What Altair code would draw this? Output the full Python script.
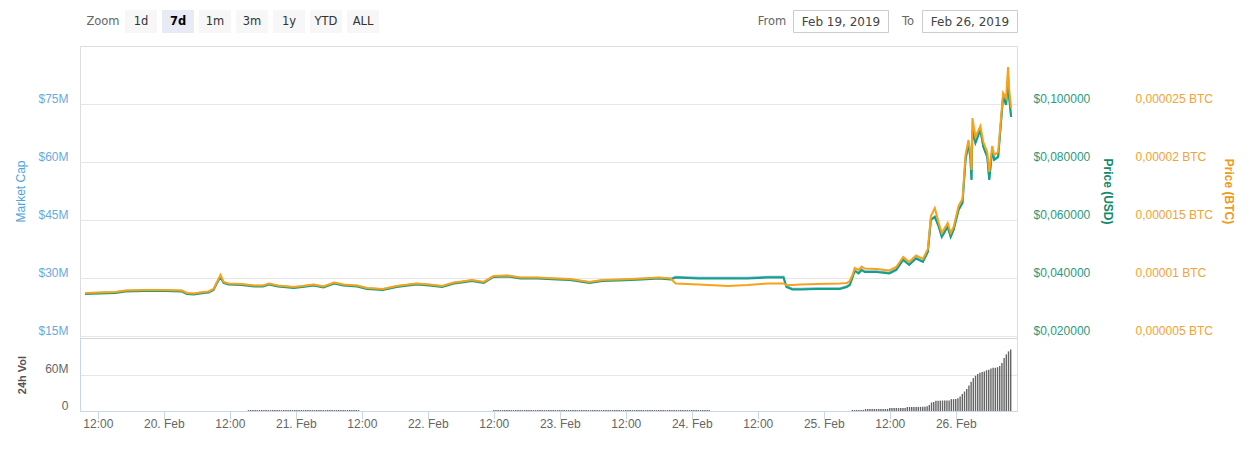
import altair as alt
import pandas as pd

# ---------------- data ----------------
# timestamps (Feb 2019, "DD HH:MM")
TIMES = [
    "19 09:40", "19 12:22", "19 15:14", "19 17:02", "19 20:28", "20 00:03", "20 03:17", "20 04:11",
    "20 05:27", "20 07:15", "20 08:09", "20 09:03", "20 09:35", "20 10:19", "20 10:51", "20 11:45",
    "20 14:05", "20 16:26", "20 18:03", "20 19:07", "20 20:44", "20 23:37", "21 01:14", "21 03:13",
    "21 05:01", "21 07:00", "21 08:37", "21 11:08", "21 12:56", "21 15:49", "21 18:20", "21 21:56",
    "22 00:16", "22 02:37", "22 04:46", "22 06:13", "22 08:01", "22 10:10", "22 11:58", "22 14:29",
    "22 16:49", "22 19:53", "22 23:29", "23 01:49", "23 05:25", "23 07:45", "23 10:49", "23 14:57",
    "23 18:01", "23 20:10", "23 21:04", "24 01:13", "24 06:36", "24 10:12", "24 13:48", "24 16:41",
    "24 17:13", "24 18:18", "24 19:44", "24 22:48", "25 02:56", "25 04:11", "25 04:44", "25 05:16",
    "25 05:38", "25 06:21", "25 06:53", "25 07:26", "25 09:35", "25 11:56", "25 13:11", "25 14:27",
    "25 15:32", "25 16:47", "25 18:02", "25 18:56", "25 19:29", "25 20:12", "25 20:55", "25 21:28",
    "25 22:32", "25 23:05", "25 23:37", "26 00:31", "26 01:14", "26 01:47", "26 02:19", "26 02:41",
    "26 02:52", "26 03:02", "26 03:35", "26 04:29", "26 05:01", "26 05:44", "26 06:06", "26 06:38",
    "26 07:00", "26 07:43", "26 08:16", "26 08:37", "26 09:10", "26 09:31", "26 09:42", "26 10:04",
]

# market cap in $M
MARKET_CAP_M = [
    26.06, 26.20, 26.32, 26.71, 26.84, 26.84, 26.71, 26.06, 25.93, 26.32, 26.45, 27.10, 28.65, 30.46,
    28.91, 28.52, 28.39, 28.00, 28.00, 28.52, 28.00, 27.61, 27.88, 28.26, 27.74, 28.78, 28.26, 28.00,
    27.36, 27.10, 27.88, 28.52, 28.26, 27.88, 28.78, 29.04, 29.43, 28.91, 30.46, 30.59, 30.07, 30.07,
    29.81, 29.68, 28.91, 29.43, 29.56, 29.81, 30.07, 29.81, 30.33, 30.07, 30.07, 30.07, 30.33, 30.33,
    27.88, 27.22, 27.22, 27.36, 27.36, 27.88, 28.39, 30.46, 32.01, 31.36, 32.27, 31.75, 31.75, 31.36,
    32.27, 34.86, 33.56, 35.24, 34.34, 36.93, 45.20, 45.97, 43.39, 40.81, 43.39, 40.81, 42.61, 47.79,
    49.60, 60.72, 65.11, 60.72, 55.54, 68.47, 65.11, 68.47, 64.08, 61.49, 55.54, 63.31, 60.72, 61.49,
    71.06, 77.01, 74.95, 82.18, 77.01, 71.84,
]

# price in USD
PRICE_USD = [
    0.03448, 0.03466, 0.03483, 0.03534, 0.03552, 0.03552, 0.03534, 0.03448, 0.03431, 0.03483, 0.03500,
    0.03586, 0.03793, 0.04034, 0.03828, 0.03776, 0.03759, 0.03707, 0.03707, 0.03776, 0.03707, 0.03655,
    0.03690, 0.03741, 0.03672, 0.03810, 0.03741, 0.03707, 0.03621, 0.03586, 0.03690, 0.03776, 0.03741,
    0.03690, 0.03810, 0.03845, 0.03897, 0.03828, 0.04034, 0.04052, 0.03983, 0.03983, 0.03948, 0.03931,
    0.03828, 0.03897, 0.03914, 0.03948, 0.03983, 0.03948, 0.04017, 0.03983, 0.03983, 0.03983, 0.04017,
    0.04017, 0.03690, 0.03603, 0.03603, 0.03621, 0.03621, 0.03690, 0.03759, 0.04034, 0.04241, 0.04155,
    0.04276, 0.04207, 0.04207, 0.04155, 0.04276, 0.04621, 0.04448, 0.04672, 0.04552, 0.04897, 0.06000,
    0.06103, 0.05759, 0.05414, 0.05759, 0.05414, 0.05655, 0.06345, 0.06586, 0.08069, 0.08655, 0.08069,
    0.07379, 0.09103, 0.08655, 0.09103, 0.08517, 0.08172, 0.07379, 0.08414, 0.08069, 0.08172, 0.09448,
    0.10241, 0.09966, 0.10931, 0.10241, 0.09552,
]

# price in micro-BTC (x 1e-6 BTC)
PRICE_BTC_MICRO = [
    8.71, 8.75, 8.79, 8.92, 8.97, 8.97, 8.92, 8.71, 8.66, 8.79, 8.84, 9.05, 9.57, 10.26, 9.66, 9.53,
    9.48, 9.35, 9.35, 9.53, 9.35, 9.22, 9.31, 9.44, 9.27, 9.61, 9.44, 9.35, 9.14, 9.05, 9.31, 9.53,
    9.44, 9.31, 9.61, 9.70, 9.83, 9.66, 10.17, 10.22, 10.04, 10.04, 9.96, 9.91, 9.66, 9.83, 9.87, 9.96,
    10.04, 9.96, 9.53, 9.44, 9.31, 9.40, 9.53, 9.53, 9.40, 9.40, 9.44, 9.48, 9.53, 9.57, 9.74, 10.30,
    10.86, 10.69, 10.99, 10.82, 10.78, 10.65, 10.95, 11.81, 11.38, 11.94, 11.64, 12.50, 15.34, 16.03,
    14.74, 13.88, 14.74, 13.88, 14.40, 16.21, 16.81, 20.60, 21.90, 20.86, 19.31, 23.79, 22.16, 23.10,
    21.72, 20.86, 19.14, 21.38, 20.60, 20.86, 23.97, 25.95, 25.52, 28.19, 26.38, 24.66,
]

# 24h volume bars ($M), three runs of bars, one bar every 24 minutes
VOL_RUN1_START = "2019-02-20 15:24"
VOL_RUN1 = [1.5] * 51
VOL_RUN2_START = "2019-02-22 12:00"
VOL_RUN2 = [1.5] * 99
VOL_RUN3_START = "2019-02-25 05:12"
VOL_RUN3 = [
    1.7, 1.7, 1.7, 1.7, 1.8, 1.8,
    3.2, 3.3, 3.3, 3.3, 3.3, 3.4, 3.3, 3.3, 3.3, 3.4, 3.4,
    5.0, 5.0, 5.0, 5.0, 5.0, 5.1, 5.1, 5.1,
    6.6, 6.7, 6.7, 6.7, 6.7, 6.7, 6.8, 6.8, 6.8,
    8.0, 10.0, 14.0, 15.0,
    17.0, 17.0, 17.0, 17.2, 17.2, 17.2, 17.4,
    19.5, 19.5, 19.6,
    21.0, 24.0, 28.0, 32.0, 36.0, 42.0, 48.0, 54.0, 58.0, 61.0, 63.0, 64.0, 65.0, 67.0,
    68.0, 70.0, 71.0, 71.0, 72.0, 74.0, 79.0, 87.0, 93.0, 98.0, 101.0,
]

ZOOM_BUTTONS = ["1d", "7d", "1m", "3m", "1y", "YTD", "ALL"]
SELECTED_BUTTON = "7d"
DATE_FROM = "Feb 19, 2019"
DATE_TO = "Feb 26, 2019"

# ---------------- tables ----------------
df = pd.DataFrame({
    "t": pd.to_datetime(["2019-02-" + s for s in TIMES], format="%Y-%m-%d %H:%M"),
    "mc": [v * 1e6 for v in MARKET_CAP_M],
    "usd": PRICE_USD,
    "btc": [v * 1e-6 for v in PRICE_BTC_MICRO],
})

vol_parts = []
for start, vals in [(VOL_RUN1_START, VOL_RUN1), (VOL_RUN2_START, VOL_RUN2), (VOL_RUN3_START, VOL_RUN3)]:
    vol_parts.append(pd.DataFrame({
        "t": pd.date_range(start, periods=len(vals), freq="24min"),
        "v": [v * 1e6 for v in vals],
    }))
vol = pd.concat(vol_parts, ignore_index=True)

# ---------------- style ----------------
FONT = "DejaVu Sans"
LABEL_SIZE = 12
MC_COLOR = "#7cb5ec"
MC_LABEL = "#6aaadb"
MC_TITLE = "#4ea4d8"
USD_COLOR = "#13a083"
USD_LABEL = "#2a9a80"
USD_TITLE = "#118a6d"
BTC_COLOR = "#f7a21b"
BTC_LABEL = "#f2a332"
BTC_TITLE = "#ef9a17"
W, H = 937, 365
MAIN_RANGE = [290, 0]
VOL_RANGE = [365, 292]

x_ticks = []
for d in range(19, 27):
    if d > 19:
        x_ticks.append(alt.DateTime(year=2019, month=2, date=d, hours=0))
    if d < 26:
        x_ticks.append(alt.DateTime(year=2019, month=2, date=d, hours=12))

X = alt.X(
    "t:T",
    scale=alt.Scale(domain=[
        alt.DateTime(year=2019, month=2, date=19, hours=9, minutes=40),
        alt.DateTime(year=2019, month=2, date=26, hours=10, minutes=14),
    ]),
    axis=alt.Axis(
        values=x_ticks,
        labelExpr="hours(datum.value) == 0 ? timeFormat(datum.value, '%d. %b') : timeFormat(datum.value, '%H:%M')",
        labelOverlap=False, labelFlush=False, grid=False, title=None,
        tickSize=8, tickColor="#ccd6eb", domainColor="#ccd6eb",
        labelColor="#666666", labelFontSize=LABEL_SIZE, labelPadding=-1,
    ),
)

vol_bars = alt.Chart(vol).mark_bar(size=1.4, color="#646464").encode(
    x=X,
    y=alt.Y("v:Q", scale=alt.Scale(domain=[0, 120e6], range=VOL_RANGE),
            axis=alt.Axis(
                orient="left", values=[0, 60e6, 120e6],
                labelExpr="datum.value > 100000000 ? '' : (datum.value == 0 ? '0' : format(datum.value / 1000000, 'd') + 'M')",
                grid=True,
                gridColor={"condition": {"test": "datum.value > 100000000", "value": "#d6d6d6"}, "value": "#e6e6e6"},
                ticks=False, domain=True, domainColor="#ccd6eb",
                labelColor="#666666", labelFontSize=LABEL_SIZE, labelPadding=12, labelOffset=-6,
                title="24h Vol", titleColor="#555555", titleFontSize=11, titleFontWeight="bold",
                titlePadding=17,
            )),
)

base = alt.Chart(df)
mc_line = base.mark_line(color=MC_COLOR, strokeWidth=2).encode(
    x=X,
    y=alt.Y("mc:Q", scale=alt.Scale(domain=[15e6, 90e6], range=MAIN_RANGE),
            axis=alt.Axis(
                orient="left", values=[15e6, 30e6, 45e6, 60e6, 75e6],
                labelExpr="'$' + format(datum.value / 1000000, 'd') + 'M'",
                grid=True, gridColor="#e6e6e6", ticks=False, domain=False,
                labelColor=MC_LABEL, labelFontSize=LABEL_SIZE, labelPadding=12, labelOffset=-6,
                title="Market Cap", titleColor=MC_TITLE, titleFontSize=12, titleFontWeight="normal",
                titlePadding=10,
            )),
)
usd_line = base.mark_line(color=USD_COLOR, strokeWidth=2).encode(
    x=X,
    y=alt.Y("usd:Q", scale=alt.Scale(domain=[0.02, 0.12], range=MAIN_RANGE),
            axis=alt.Axis(
                orient="right", values=[0.02, 0.04, 0.06, 0.08, 0.1],
                labelExpr="'$' + replace(format(datum.value, '.6f'), '.', ',')",
                grid=False, ticks=False, domain=False,
                labelColor=USD_LABEL, labelFontSize=LABEL_SIZE, labelPadding=16, labelOffset=-6,
                title="Price (USD)", titleColor=USD_TITLE, titleFontSize=12, titleFontWeight="bold",
                titlePadding=11,
            )),
)
btc_line = base.mark_line(color=BTC_COLOR, strokeWidth=2).encode(
    x=X,
    y=alt.Y("btc:Q", scale=alt.Scale(domain=[0.000005, 0.00003], range=MAIN_RANGE),
            axis=alt.Axis(
                orient="right", offset=102, values=[0.000005, 0.00001, 0.000015, 0.00002, 0.000025],
                labelExpr="replace(format(datum.value, '.6~f'), '.', ',') + ' BTC'",
                grid=False, ticks=False, domain=False,
                labelColor=BTC_LABEL, labelFontSize=LABEL_SIZE, labelPadding=16, labelOffset=-6,
                title="Price (BTC)", titleColor=BTC_TITLE, titleFontSize=12, titleFontWeight="bold",
                titlePadding=9,
            )),
)

# ---------------- range selector / date inputs (decoration) ----------------
one = alt.Data(values=[{"k": 0}])


def box(x0, x1, y0, y1, fill, stroke=None):
    kw = dict(fill=fill)
    if stroke:
        kw.update(stroke=stroke, strokeWidth=1)
    return alt.Chart(one).mark_rect(**kw).encode(
        x=alt.value(x0), x2=alt.value(x1), y=alt.value(y0), y2=alt.value(y1))


def label(txt, xc, yc, color, size=11.5, weight="normal"):
    return alt.Chart(one).mark_text(
        text=txt, font=FONT, fontSize=size, color=color, fontWeight=weight,
        align="center", baseline="middle").encode(x=alt.value(xc), y=alt.value(yc))


deco = [label("Zoom", 23, -24.5, "#666666")]
for i, b in enumerate(ZOOM_BUTTONS):
    x0 = 45 + 37 * i
    sel = b == SELECTED_BUTTON
    deco.append(box(x0, x0 + 32, -36, -13, "#e6ebf5" if sel else "#f7f7f7"))
    deco.append(label(b, x0 + 16, -24.5, "#000000" if sel else "#333333",
                      weight="bold" if sel else "normal"))
deco.append(label("From", 692, -24.5, "#666666"))
deco.append(box(713.5, 808.5, -35.5, -13.5, "#ffffff", "#cccccc"))
deco.append(label(DATE_FROM, 761, -24.5, "#444444", size=12))
deco.append(label("To", 828, -24.5, "#666666"))
deco.append(box(842.5, 937.5, -35.5, -13.5, "#ffffff", "#cccccc"))
deco.append(label(DATE_TO, 890, -24.5, "#444444", size=12))

chart = alt.layer(vol_bars, mc_line, usd_line, btc_line, *deco).resolve_scale(
    y="independent"
).properties(
    width=W, height=H,
    padding={"left": 80, "top": 46, "right": 233, "bottom": 48},
    autosize="none",
).configure_view(stroke=None).configure_axis(
    labelFont=FONT, titleFont=FONT
).configure(background="#ffffff")

chart.save("out.html", embed_options={"renderer": "svg", "actions": False})
